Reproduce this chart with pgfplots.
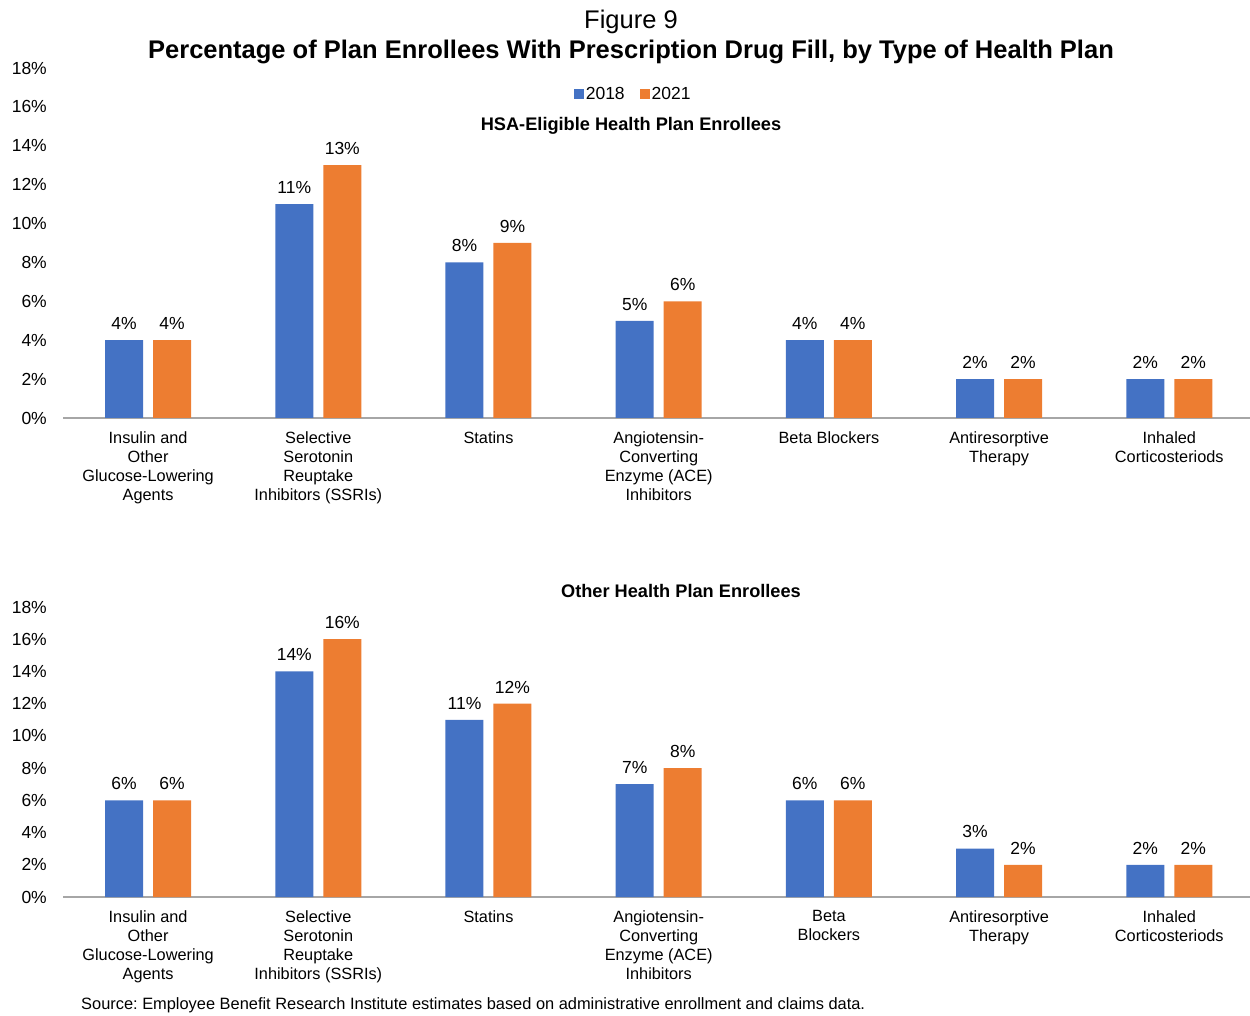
\documentclass[border=0pt]{standalone}
\usepackage{fontspec}
\setmainfont{Liberation Sans}
\usepackage{pgfplots}
\pgfplotsset{compat=1.18}
\frenchspacing
\definecolor{cblue}{HTML}{4472C4}
\definecolor{corange}{HTML}{ED7D31}
\definecolor{axgray}{HTML}{A6A6A6}
\pgfplotsset{
  mystyle/.style={
    scale only axis, width=1188pt,
    ybar, bar width=38pt,
    xmin=-0.5, xmax=6.48, ymin=0, ymax=18,
    xtick={0,...,6},
    ytick={0,2,...,18},
    /pgf/number format/assume math mode=true,
    yticklabel={\pgfmathprintnumber{\tick}\%},
    axis x line*=bottom, axis y line*=left,
    y axis line style={draw=none},
    x axis line style={-, draw=axgray, line width=1.3pt},
    major tick length=0pt,
    tick style={draw=none},
    yticklabel style={font=\fontsize{17.5}{20}\selectfont, anchor=east, inner sep=0pt, xshift=-16pt},
    xticklabel style={align=center, font=\fontsize{16.3}{19}\selectfont, anchor=north, inner sep=0pt, yshift=-13pt},
    nodes near coords={\pgfmathprintnumber{\pgfplotspointmeta}\%},
    nodes near coords style={font=\fontsize{17.5}{20}\selectfont, text=black, yshift=7pt},
    clip=false,
  }
}
\begin{document}
\begin{tikzpicture}
\useasboundingbox (0,0) rectangle (1250pt,1015pt);
\node[font=\fontsize{25.5}{28}\selectfont] at (631pt,993pt) {Figure 9};
\node[font=\fontsize{25.5}{28}\selectfont\bfseries] at (631pt,963pt) {Percentage of Plan Enrollees With Prescription Drug Fill, by Type of Health Plan};
\node[font=\fontsize{18.2}{21}\selectfont\bfseries] at (631pt,889pt) {HSA-Eligible Health Plan Enrollees};
\node[font=\fontsize{18.2}{21}\selectfont\bfseries] at (681pt,424pt) {Other Health Plan Enrollees};
\node[anchor=west, inner sep=0pt, font=\fontsize{16.4}{19}\selectfont] at (81pt,10pt) {Source: Employee Benefit Research Institute estimates based on administrative enrollment and claims data.};

\begin{axis}[mystyle, at={(63pt,597pt)}, anchor=south west, height=350pt,
  xticklabels={{Insulin and\\Other\\Glucose-Lowering\\Agents},{Selective\\Serotonin\\Reuptake\\Inhibitors (SSRIs)},{Statins},{Angiotensin-\\Converting\\Enzyme (ACE)\\Inhibitors},{Beta Blockers},{Antiresorptive\\Therapy},{Inhaled\\Corticosteriods}},
  legend style={at={(axis description cs:0.48,0.925)}, anchor=center, draw=none, legend columns=2,
    font=\fontsize{17.5}{20}\selectfont, inner sep=0pt,
    /tikz/every even column/.append style={column sep=13pt}},
  legend image code/.code={\fill[#1] (0pt,-5pt) rectangle (10pt,5pt);},
]
\addplot[fill=cblue, draw=none, bar shift=-24pt] coordinates {(0,4) (1,11) (2,8) (3,5) (4,4) (5,2) (6,2)};
\addplot[fill=corange, draw=none, bar shift=24pt] coordinates {(0,4) (1,13) (2,9) (3,6) (4,4) (5,2) (6,2)};
\legend{2018,2021}
\end{axis}

\begin{axis}[mystyle, at={(63pt,118pt)}, anchor=south west, height=290pt,
  xticklabels={{Insulin and\\Other\\Glucose-Lowering\\Agents},{Selective\\Serotonin\\Reuptake\\Inhibitors (SSRIs)},{Statins},{Angiotensin-\\Converting\\Enzyme (ACE)\\Inhibitors},{Beta\\Blockers},{Antiresorptive\\Therapy},{Inhaled\\Corticosteriods}},
]
\addplot[fill=cblue, draw=none, bar shift=-24pt] coordinates {(0,6) (1,14) (2,11) (3,7) (4,6) (5,3) (6,2)};
\addplot[fill=corange, draw=none, bar shift=24pt] coordinates {(0,6) (1,16) (2,12) (3,8) (4,6) (5,2) (6,2)};
\end{axis}
\end{tikzpicture}
\end{document}
